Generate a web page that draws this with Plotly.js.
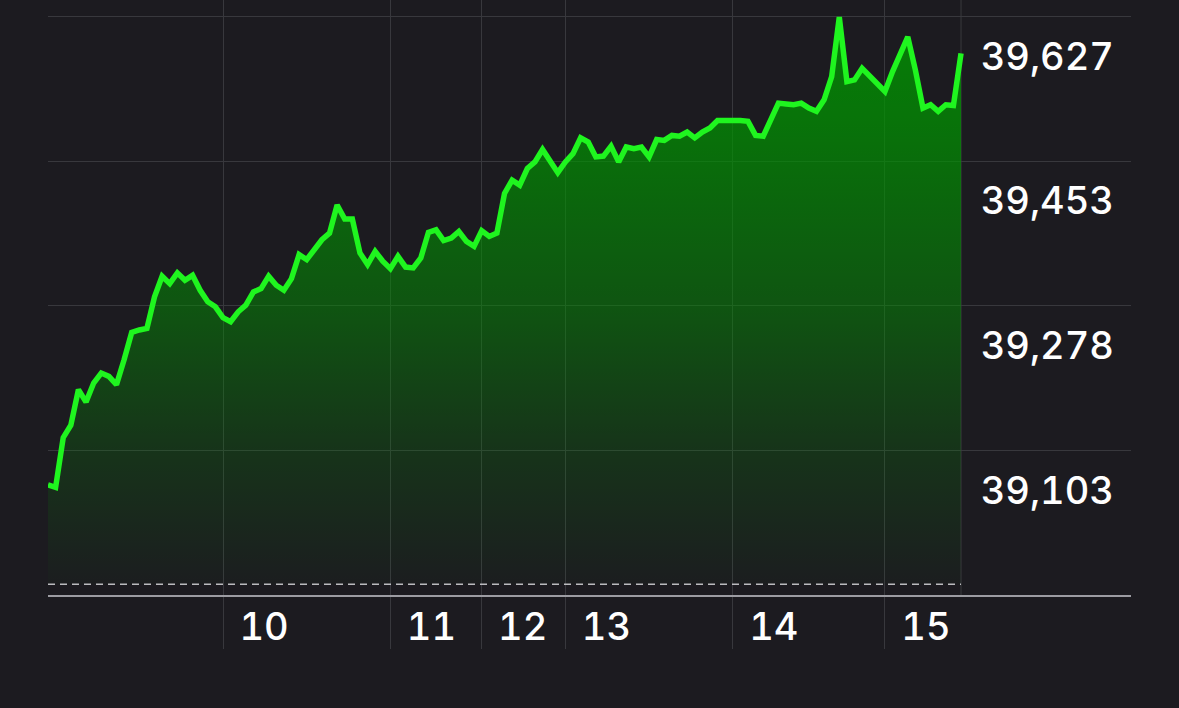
<!DOCTYPE html>
<html>
<head>
<meta charset="utf-8">
<script src="https://cdn.plot.ly/plotly-3.0.1.min.js"></script>
<style>
  html, body { margin: 0; padding: 0; background: #1c1b20; }
  #chart { width: 1179px; height: 708px; }
  #chart text { font-feature-settings: "tnum" 1; font-variant-numeric: tabular-nums; }
</style>
</head>
<body>
<div id="chart"></div>
<script>
// ---- data ----
const prices = [
  39062, 39059, 39119, 39134, 39177, 39162, 39185, 39197, 39193, 39183,
  39213, 39246, 39249, 39251, 39289, 39314, 39305, 39318, 39309, 39315,
  39297, 39283, 39277, 39264, 39259, 39271, 39279, 39295, 39299, 39314,
  39303, 39297, 39311, 39340, 39334, 39346, 39358, 39366, 39400, 39383,
  39383, 39342, 39328, 39344, 39332, 39323, 39338, 39325, 39324, 39336,
  39367, 39370, 39357, 39360, 39368, 39356, 39350, 39369, 39362, 39366,
  39414, 39430, 39424, 39444, 39452, 39467, 39452, 39439, 39452, 39462,
  39481, 39476, 39458, 39459, 39471, 39452, 39470, 39468, 39470, 39458,
  39479, 39478, 39484, 39483, 39488, 39481, 39488, 39493, 39502, 39502,
  39503, 39502, 39501, 39484, 39483, 39505, 39523, 39522, 39521, 39523,
  39517, 39513, 39527, 39555, 39627, 39549, 39551, 39565, 39556, 39547,
  39537, 39561, 39583, 39603, 39563, 39517, 39521, 39513, 39521, 39520,
  39583
];
const dayLabels = ['10', '11', '12', '13', '14', '15'];
const dayStartIndex = [23, 45, 57, 68, 90, 110];
const yTickValues = [39103, 39278, 39453, 39627];
const prevClose = 38942;
const yRange = [38929, 39647.5];
const xRangeMax = 142.34;

// ---- styles ----
const BG = '#1c1b20';
const GRID = '#38383d';
const LINE_GREEN = '#1ff51f';
const FONT = { family: 'Inter, "Noto Sans", sans-serif', size: 38, color: '#ffffff', weight: 500 };

const xs = prices.map((_, i) => i);
const lastIdx = xs[xs.length - 1];

const baseline = {
  x: [0, lastIdx],
  y: [prevClose, prevClose],
  mode: 'lines',
  line: { color: 'rgba(215,215,220,0.85)', width: 1.5, dash: '7px,5px' },
  hoverinfo: 'skip'
};

const priceTrace = {
  x: xs,
  y: prices,
  mode: 'lines',
  line: { color: LINE_GREEN, width: 5.5, shape: 'linear' },
  fill: 'tonexty',
  fillgradient: {
    type: 'vertical',
    start: prevClose,
    stop: Math.max(...prices),
    colorscale: [
      [0, 'rgba(0,150,0,0.02)'],
      [0.235, 'rgba(0,150,0,0.20)'],
      [0.49, 'rgba(0,150,0,0.47)'],
      [0.82, 'rgba(0,150,0,0.72)'],
      [1, 'rgba(0,150,0,0.80)']
    ]
  },
  hoverinfo: 'skip'
};

const layout = {
  width: 1179,
  height: 708,
  paper_bgcolor: BG,
  plot_bgcolor: BG,
  margin: { l: 48, r: 48, t: 0, b: 113, pad: 0 },
  showlegend: false,
  xaxis: {
    range: [0, xRangeMax],
    tickvals: dayStartIndex,
    ticktext: dayLabels,
    showgrid: true,
    gridcolor: GRID,
    gridwidth: 1,
    ticks: 'outside',
    ticklen: 52,
    tickwidth: 1,
    tickcolor: GRID,
    showline: true,
    linecolor: '#9c9ca2',
    linewidth: 1.5,
    zeroline: false,
    tickfont: FONT,
    ticklabelshift: 41,
    ticklabelstandoff: -54,
    fixedrange: true
  },
  yaxis: {
    range: yRange,
    side: 'right',
    tickvals: yTickValues,
    tickformat: ',d',
    ticklabelposition: 'inside',
    ticklabelshift: 40,
    ticklabelstandoff: 14,
    ticks: '',
    showgrid: true,
    gridcolor: GRID,
    gridwidth: 1,
    zeroline: false,
    showline: false,
    tickfont: FONT,
    fixedrange: true
  },
  shapes: [{
    type: 'line',
    xref: 'x', yref: 'paper',
    x0: lastIdx, x1: lastIdx, y0: 0, y1: 1,
    line: { color: GRID, width: 1 },
    layer: 'below'
  }]
};

Plotly.newPlot('chart', [baseline, priceTrace], layout, { staticPlot: true, displayModeBar: false });
</script>
</body>
</html>
